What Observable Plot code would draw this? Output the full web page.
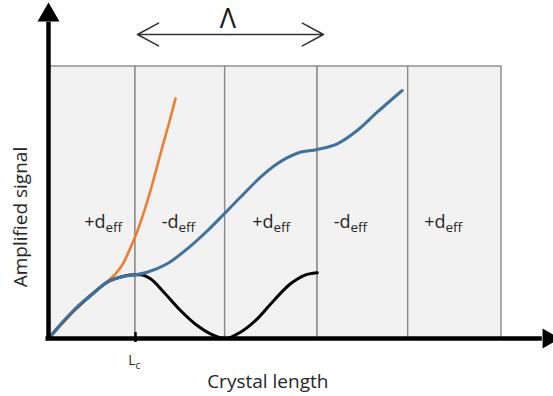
<!DOCTYPE html>
<html><head><meta charset="utf-8">
<script src="https://cdn.jsdelivr.net/npm/d3@7"></script>
<script src="https://cdn.jsdelivr.net/npm/@observablehq/plot@0.6"></script>
<style>html,body{margin:0;padding:0;background:#fff;} svg{display:block;}</style>
</head><body><div id="chart"></div>
<script>
// Panel (domain) boundaries along crystal length, in units of ~Lc
const panelEdges = [0, 0.96, 1.95, 2.97, 3.97, 5.0];
const panelSigns = ["+", "-", "+", "-", "+"];
const panelLabelX = [0.629, 1.435, 2.483, 3.333, 4.382];
const panelTop = 4.25;
const LcPos = 0.96;

// Curves
const blueX = [0, 0.279, 0.464, 0.648, 0.831, 0.960, 1.089, 1.310, 1.531, 1.751, 1.954, 2.156, 2.340, 2.524, 2.745, 2.966, 3.187, 3.407, 3.628, 3.904];
const blueY = [0, 0.4375, 0.672, 0.880, 0.973, 0.995, 1.036, 1.167, 1.40, 1.68, 1.969, 2.261, 2.520, 2.730, 2.895, 2.953, 3.042, 3.25, 3.536, 3.875];
const orangeX = [0, 0.298, 0.464, 0.648, 0.74, 0.831, 0.905, 0.96, 1.126, 1.255, 1.347, 1.402];
const orangeY = [0, 0.453, 0.672, 0.89, 1.01, 1.19, 1.42, 1.60, 2.3125, 2.984, 3.453, 3.75];
const blackX = [0, 0.279, 0.464, 0.648, 0.831, 0.960, 1.015, 1.126, 1.273, 1.457, 1.641, 1.788, 1.954, 2.119, 2.304, 2.487, 2.671, 2.818, 2.966];
const blackY = [0, 0.4375, 0.672, 0.880, 0.973, 0.995, 0.995, 0.932, 0.723, 0.438, 0.203, 0.073, 0, 0.099, 0.307, 0.594, 0.855, 0.984, 1.027];

const xLabel = "Crystal length";
const yLabel = "Amplified signal";
const periodLabel = "Λ";

const panels = panelSigns.map((s, i) => ({x1: panelEdges[i], x2: panelEdges[i + 1], sign: s, lx: panelLabelX[i]}));
const toPts = (xs, ys) => xs.map((x, i) => ({x, y: ys[i]}));
const blue = toPts(blueX, blueY);
const orange = toPts(orangeX, orangeY);
const black = toPts(blackX, blackY);

const font = "'Open Sans', sans-serif";
const textColor = "#262626";

const chart = Plot.plot({
  width: 553,
  height: 396,
  marginLeft: 48,
  marginRight: 52,
  marginTop: 66,
  marginBottom: 58,
  style: {fontFamily: font, background: "#fff", overflow: "visible"},
  x: {domain: [0, 5], axis: null},
  y: {domain: [0, panelTop], axis: null},
  marks: [
    Plot.rect(panels, {x1: "x1", x2: "x2", y1: 0, y2: panelTop, fill: "#f2f2f2", stroke: "#8a8a8a", strokeWidth: 1.4}),
    Plot.line(orange, {x: "x", y: "y", stroke: "#ed7d31", strokeWidth: 2.6, curve: "monotone-x"}),
    Plot.line(black, {x: "x", y: "y", stroke: "#000", strokeWidth: 3, curve: "monotone-x"}),
    Plot.line(blue, {x: "x", y: "y", stroke: "#41729f", strokeWidth: 3, curve: "monotone-x"}),
    // axes
    Plot.ruleY([0], {x1: -0.028, x2: 5.45, stroke: "#000", strokeWidth: 4.5}),
    Plot.ruleX([0], {y1: -0.035, y2: 4.94, stroke: "#000", strokeWidth: 4.5}),
    Plot.ruleX([LcPos], {y1: -0.0625, y2: 0.094, stroke: "#000", strokeWidth: 2.5}),
    Plot.dot([0], {x: d => d, y: () => 5.052, symbol: "triangle", r: 8.17, fill: "#000", stroke: "none"}),
    Plot.dot([0], {x: () => 5.517, y: d => d, symbol: "triangle", r: 7.42, rotate: 90, fill: "#000", stroke: "none"}),
    // panel labels
    Plot.text(panels, {x: "lx", y: () => 1.82, text: d => d.sign + "d", textAnchor: "end", fontSize: 18, fill: textColor}),
    Plot.text(panels, {x: "lx", y: () => 1.82, text: () => "eff", textAnchor: "start", fontSize: 13.5, dy: 6, fill: textColor}),
    // Lc tick label
    Plot.text(["L"], {x: () => LcPos, y: () => -0.344, text: d => d, textAnchor: "end", fontSize: 14, fill: textColor}),
    Plot.text(["c"], {x: () => LcPos, y: () => -0.344, text: d => d, textAnchor: "start", fontSize: 10, dy: 5, fill: textColor}),
    // axis labels
    Plot.text([xLabel], {x: () => 2.42, y: () => -0.681, text: d => d, fontSize: 19, fill: textColor}),
    Plot.text([yLabel], {x: () => -0.309, y: () => 1.898, text: d => d, rotate: -90, fontSize: 19, fill: textColor}),
    // period arrow
    Plot.arrow([0, 1], {x1: () => 2.0, y1: () => 4.75, x2: i => (i === 0 ? 0.982 : 3.035), y2: () => 4.75, stroke: "#333", strokeWidth: 1.5, headLength: 24, headAngle: 57}),
    Plot.text([periodLabel], {x: () => 1.981, y: () => 4.989, text: d => d, fontSize: 27, fill: "#1a1a1a"})
  ]
});
document.getElementById("chart").appendChild(chart);
</script>
</body></html>
